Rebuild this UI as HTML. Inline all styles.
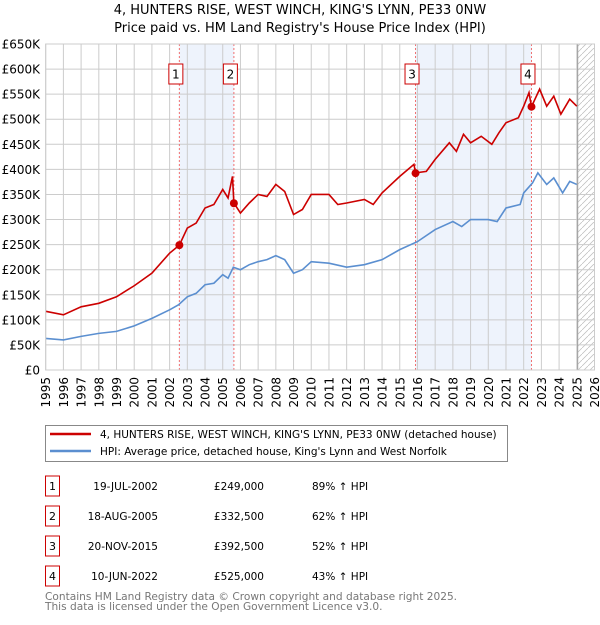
<!DOCTYPE html>
<html><head><meta charset="utf-8"><style>
body{margin:0;background:#fff;font-family:"Liberation Sans","DejaVu Sans",sans-serif;}
svg text{font-family:"DejaVu Sans","Liberation Sans",sans-serif;}
</style></head><body>
<svg id="c" width="600" height="620" xmlns="http://www.w3.org/2000/svg">
<text x="300" y="14" text-anchor="middle" font-size="13" fill="#000">4, HUNTERS RISE, WEST WINCH, KING'S LYNN, PE33 0NW</text>
<text x="300" y="32" text-anchor="middle" font-size="13" fill="#000">Price paid vs. HM Land Registry's House Price Index (HPI)</text>
<g id="plot"></g>
<rect x="45.5" y="425.5" width="462" height="36" fill="#fff" stroke="#888"/>
<line x1="50" y1="434" x2="91" y2="434" stroke="#cc0000" stroke-width="2.5"/>
<text x="100" y="438" font-size="10.5">4, HUNTERS RISE, WEST WINCH, KING'S LYNN, PE33 0NW (detached house)</text>
<line x1="50" y1="451" x2="91" y2="451" stroke="#5b8fd0" stroke-width="2.5"/>
<text x="100" y="455" font-size="10.5">HPI: Average price, detached house, King's Lynn and West Norfolk</text>
<g id="table"></g>
<text x="45" y="600" font-size="10.6" fill="#777">Contains HM Land Registry data © Crown copyright and database right 2025.</text>
<text x="45" y="610" font-size="10.6" fill="#777">This data is licensed under the Open Government Licence v3.0.</text>
</svg>
<script>
const yearTicks=[1995,1996,1997,1998,1999,2000,2001,2002,2003,2004,2005,2006,2007,2008,2009,2010,2011,2012,2013,2014,2015,2016,2017,2018,2019,2020,2021,2022,2023,2024,2025,2026];
const priceTicks=[0,50,100,150,200,250,300,350,400,450,500,550,600,650];
const hpiYears=[1995,1996,1997,1998,1999,2000,2001,2002,2002.5,2003,2003.5,2004,2004.5,2005,2005.3,2005.6,2006,2006.5,2007,2007.5,2008,2008.5,2009,2009.5,2010,2011,2012,2013,2014,2015,2016,2017,2018,2018.5,2019,2020,2020.5,2021,2021.8,2022,2022.5,2022.8,2023.3,2023.7,2024.2,2024.6,2025];
const hpiValues=[63,60,67,73,77,88,103,120,130,146,153,170,173,190,183,205,200,210,216,220,228,220,193,200,216,213,205,210,220,240,256,280,296,286,300,300,296,323,330,353,373,393,370,383,353,376,370];
const propYears=[1995,1996,1997,1998,1999,2000,2001,2002,2002.55,2003,2003.5,2004,2004.5,2005,2005.3,2005.55,2005.63,2006,2006.5,2007,2007.5,2008,2008.5,2009,2009.5,2010,2011,2011.5,2012,2013,2013.5,2014,2015,2015.8,2015.89,2016.5,2017,2017.8,2018.2,2018.6,2019,2019.6,2020.2,2020.6,2021,2021.7,2022,2022.3,2022.44,2022.9,2023.3,2023.7,2024.1,2024.6,2025];
const propValues=[117,110,126,133,146,168,193,233,249,283,293,323,330,360,343,386,333,313,333,350,346,370,356,310,320,350,350,330,333,340,330,353,386,410,393,396,420,453,436,470,453,466,450,473,493,503,526,553,525,560,526,546,510,540,526];
const saleLabels=["1","2","3","4"];
const saleYears=[2002.55,2005.63,2015.89,2022.44];
const salePrices=[249,332.5,392.5,525];
const saleDates=["19-JUL-2002","18-AUG-2005","20-NOV-2015","10-JUN-2022"];
const salePriceText=["£249,000","£332,500","£392,500","£525,000"];
const salePct=["89% ↑ HPI","62% ↑ HPI","52% ↑ HPI","43% ↑ HPI"];

const NS="http://www.w3.org/2000/svg";
const X0=45.7,X1=594.5,Y0=370,Y1=44;
const xs=y=>X0+(y-1995)*(X1-X0)/31;
const ys=v=>Y0-v*(Y0-Y1)/650;
const plot=document.getElementById('plot');
function mk(tag,attrs,parent){const e=document.createElementNS(NS,tag);for(const k in attrs)e.setAttribute(k,attrs[k]);(parent||plot).appendChild(e);return e;}

for(let i=0;i<4;i+=2){
  const r=mk('rect',{x:xs(saleYears[i]),y:Y1,width:xs(saleYears[i+1])-xs(saleYears[i]),height:Y0-Y1,fill:'#eef3fc'});
  
  
}
const defs=mk('defs',{});
const pat=mk('pattern',{id:'hatch',width:6,height:6,patternUnits:'userSpaceOnUse'},defs);
mk('path',{d:'M0,6 L6,0',stroke:'#bbb','stroke-width':0.7},pat);
const hr=mk('rect',{x:xs(2025.05),y:Y1,width:X1-xs(2025.05),height:Y0-Y1,fill:'url(#hatch)'});


yearTicks.forEach(t=>{
  const l=mk('line',{x1:xs(t),x2:xs(t),y1:Y1,y2:Y0,stroke:'#ccc','stroke-width':1});
  
  
  const tx=mk('text',{x:0,y:0,transform:`translate(${xs(t)+4.5},${Y0+7}) rotate(-90)`,'text-anchor':'end','font-size':12});
  tx.textContent=t;
  
  
});
priceTicks.forEach(v=>{
  const l=mk('line',{x1:X0,x2:X1,y1:ys(v),y2:ys(v),stroke:'#ccc','stroke-width':1});
  
  
  const tx=mk('text',{x:40,y:ys(v)+4.5,'text-anchor':'end','font-size':12});
  tx.textContent=v===0?'£0':'£'+v+'K';
  
  
});
const ed=mk('line',{x1:xs(2025.05),x2:xs(2025.05),y1:Y1,y2:Y0,stroke:'#999','stroke-width':1});


saleYears.forEach((s,i)=>{
  const l=mk('line',{x1:xs(s),x2:xs(s),y1:Y1,y2:Y0,stroke:'#f07070','stroke-width':1,'stroke-dasharray':'2,2'});
  
  
});
const hp=mk('polyline',{points:hpiYears.map((y,i)=>xs(y)+','+ys(hpiValues[i])).join(' '),fill:'none',stroke:'#5b8fd0','stroke-width':1.6});


const pp=mk('polyline',{points:propYears.map((y,i)=>xs(y)+','+ys(propValues[i])).join(' '),fill:'none',stroke:'#cc0000','stroke-width':1.6});


saleYears.forEach((s,i)=>{
  const c=mk('circle',{cx:xs(s),cy:ys(salePrices[i]),r:4,fill:'#cc0000'});
  
  
  const b=mk('rect',{x:xs(s)-10.5,y:64,width:14,height:20,fill:'#fff',stroke:'#cc0000'});
  
  
  const t=mk('text',{x:xs(s)-3.5,y:78.5,'text-anchor':'middle','font-size':12});
  t.textContent=saleLabels[i];
  
  
});
const frame=mk('rect',{x:X0,y:Y1,width:X1-X0,height:Y0-Y1,fill:'none',stroke:'#ccc'});



const tb=document.getElementById('table');
saleLabels.forEach((lab,i)=>{
  const cy=486+i*30;
  const b=mk('rect',{x:45.5,y:cy-10,width:14,height:20,fill:'#fff',stroke:'#cc0000'},tb);
  
  
  const t1=mk('text',{x:52.5,y:cy+4,'text-anchor':'middle','font-size':11},tb);
  t1.textContent=lab;
  
  
  const t2=mk('text',{x:158,y:cy+4,'text-anchor':'end','font-size':10.5},tb);
  t2.textContent=saleDates[i];
  
  
  const t3=mk('text',{x:264,y:cy+4,'text-anchor':'end','font-size':10.5},tb);
  t3.textContent=salePriceText[i];
  
  
  const t4=mk('text',{x:312,y:cy+4,'font-size':10.5},tb);
  t4.textContent=salePct[i];
  
  
});
</script>
</body></html>
